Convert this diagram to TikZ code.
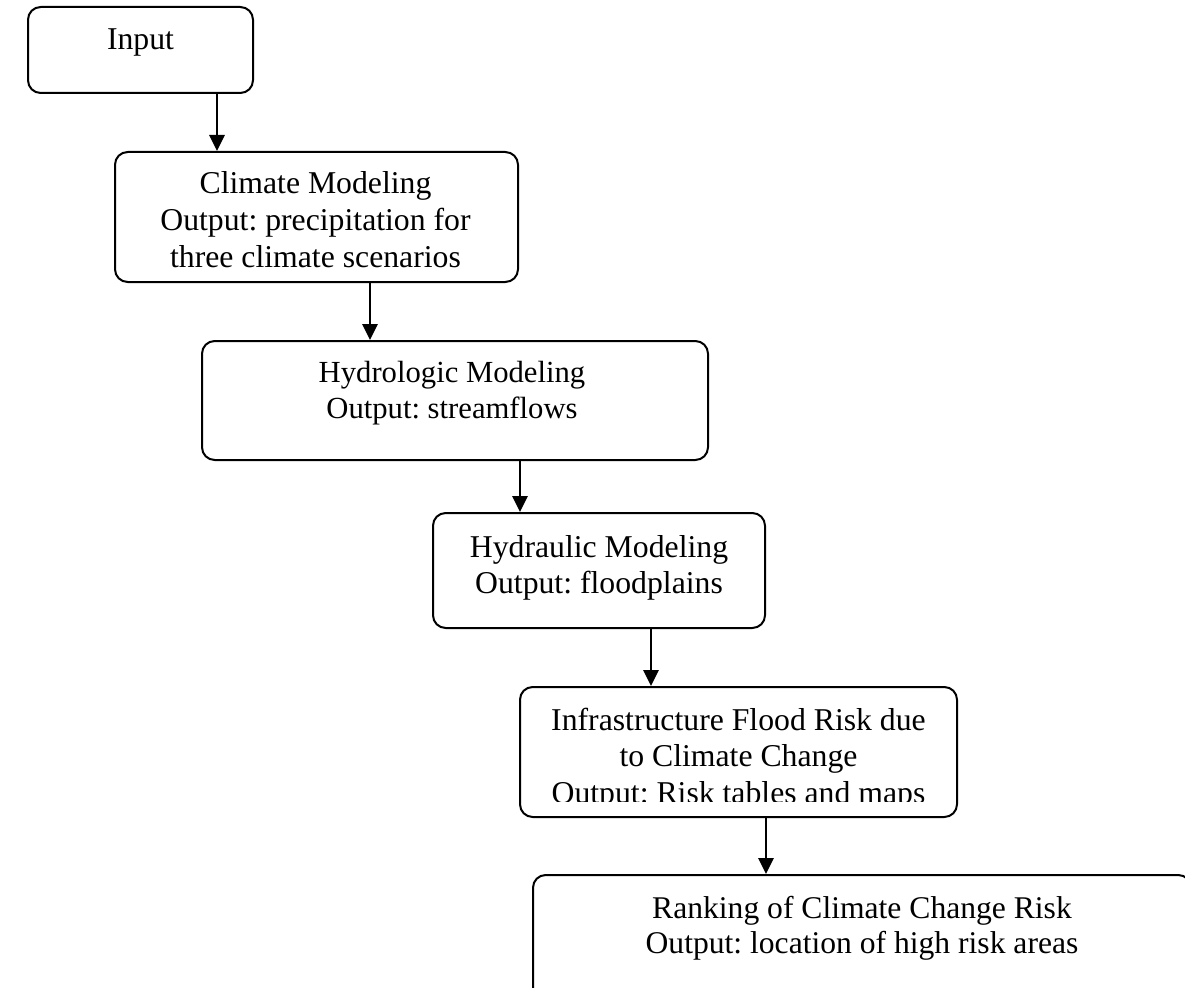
\documentclass[tikz,border=0pt]{standalone}
\usepackage{fontspec}
\setmainfont{Liberation Serif}
\usetikzlibrary{arrows.meta,fit}
\frenchspacing
\newcommand\mlines[1]{\begin{tabular}[t]{@{}c@{}}#1\end{tabular}}
\tikzset{
  box/.style={draw, line width=1.5pt, rounded corners=9.5pt, inner sep=0pt, fit={#1}},
  txt/.style={inner sep=0pt, anchor=base, font=\fontsize{23.8}{27.5}\selectfont},
  txts/.style={inner sep=0pt, anchor=base, font=\fontsize{23}{27}\selectfont},
  txtb/.style={inner sep=0pt, anchor=base, font=\fontsize{23.7}{26.25}\selectfont},
  arr/.style={line width=1.5pt, -{Triangle[length=12pt,width=11.5pt]}}
}
\begin{document}
\begin{tikzpicture}[x=0.75pt,y=-0.75pt]
\useasboundingbox (0,0) rectangle (1185,988);
\clip (0,0) rectangle (1185,988);

% boxes
\node[box={(28,7) (253,93)}] (input) {};
\node[box={(115,152) (518,282)}] (climate) {};
\node[box={(202,341) (708,460)}] (hydrologic) {};
\node[box={(433,513) (765,628)}] (hydraulic) {};
\node[box={(520,687) (957,817)}] (infra) {};
\node[box={(533,875) (1191,1005)}] (ranking) {};

% texts
\node[txt] (tinput) at (140.5,50) {\mlines{Input}};
\node[txt] (tclimate) at (315.5,194) {\mlines{Climate Modeling\\Output: precipitation for\\three climate scenarios}};
\node[txts] (thydrologic) at (452,382) {\mlines{Hydrologic Modeling\\Output: streamflows}};
\node[txt] (thydraulic) at (599,557) {\mlines{Hydraulic Modeling\\Output: floodplains}};
\begin{scope}
  \clip (520,687) rectangle (957,801);
  \node[txt] (tinfra) at (738.5,730) {\mlines{Infrastructure Flood Risk due\\to Climate Change\\Output: Risk tables and maps}};
\end{scope}
\node[txtb] (tranking) at (862,918) {\mlines{Ranking of Climate Change Risk\\Output: location of high risk areas}};

% connector x positions
\coordinate (a1) at (217,0);
\coordinate (a2) at (370,0);
\coordinate (a3) at (520,0);
\coordinate (a4) at (651,0);
\coordinate (a5) at (766,0);

\draw[arr] (input.south -| a1) -- (climate.north -| a1);
\draw[arr] (climate.south -| a2) -- (hydrologic.north -| a2);
\draw[arr] (hydrologic.south -| a3) -- (hydraulic.north -| a3);
\draw[arr] (hydraulic.south -| a4) -- (infra.north -| a4);
\draw[arr] (infra.south -| a5) -- (ranking.north -| a5);
\end{tikzpicture}
\end{document}
